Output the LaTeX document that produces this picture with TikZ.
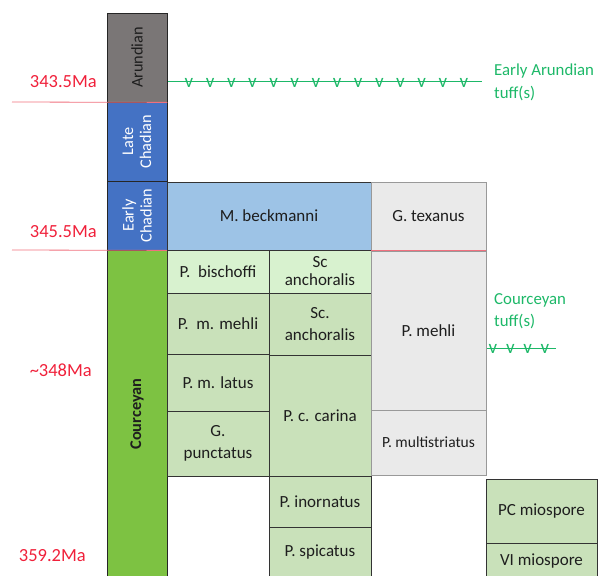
\documentclass[tikz,border=0pt]{standalone}
\usepackage{fontspec}
\setmainfont{Carlito}
\usetikzlibrary{positioning, calc}
\definecolor{arugray}{HTML}{7A7676}
\definecolor{chadblue}{HTML}{4472C4}
\definecolor{courgreen}{HTML}{7DC242}
\definecolor{beckblue}{HTML}{9DC3E6}
\definecolor{palegray}{HTML}{EAEAEA}
\definecolor{palegreen}{HTML}{D8F2CF}
\definecolor{sage}{HTML}{C9E1BA}
\definecolor{agered}{HTML}{F0203A}
\definecolor{ageline}{HTML}{F0707E}
\definecolor{tuffgreen}{HTML}{1DB868}
\definecolor{inkdark}{HTML}{1E1E1E}

\begin{document}
\begin{tikzpicture}[
    x=1pt, y=-1pt,
    stage/.style={draw=black!85, line width=0.8pt, rectangle, rotate=90, minimum height=60pt, align=center, inner sep=0pt, font=\fontsize{16.3}{18}\selectfont},
    zone/.style={draw=black!80, line width=0.8pt, rectangle, align=center, inner sep=0pt, fill=sage, text=inkdark, font=\fontsize{17}{22}\selectfont},
    greyzone/.style={zone, draw=black!40, fill=palegray},
    age/.style={text=agered, anchor=east, inner sep=0pt, font=\fontsize{18.5}{20}\selectfont},
    ageline/.style={draw=ageline, line width=0.8pt},
    tuff/.style={draw=tuffgreen, line width=0.8pt},
    tufflabel/.style={text=tuffgreen, anchor=north west, align=left, inner sep=0pt, font=\fontsize{16.8}{22.5}\selectfont},
    vmark/.style={text=tuffgreen, inner sep=0pt, font=\fontsize{19}{19}\selectfont}
]
    \useasboundingbox (0,0) rectangle (598,576);

    % --- STAGES ---
    \node[stage, fill=arugray, text=inkdark, minimum width=89pt] (arundian) at (137, 57.5) {Arundian};
    \node[stage, fill=chadblue, text=white, minimum width=79pt] (latechad) at (137, 141.5) {Late\\Chadian};
    \node[stage, fill=chadblue, text=white, minimum width=69pt] (earlychad) at (137, 215.5) {Early\\Chadian};
    \node[stage, fill=courgreen, text=inkdark, minimum width=328pt, font=\fontsize{16.3}{18}\selectfont\bfseries] (courceyan) at (137, 414) {Courceyan};

    % --- AGES ---
    \node[age] (a343) at (97, 82) {343.5Ma};
    \node[age] (a345) at (97, 232) {345.5Ma};
    \node[age] (a348) at (92, 370) {\textasciitilde 348Ma};
    \node[age] (a359) at (86, 556) {359.2Ma};
    \coordinate (l343) at (12, 102);
    \coordinate (l345) at (12, 250);
    \draw[ageline] (l343) -- (arundian.south west);
    \draw[ageline] (l345) -- (earlychad.south west);

    % --- ZONES ---
    \node[zone, fill=beckblue, minimum width=204pt, minimum height=68pt] (beckmanni) at (269, 216) {M. beckmanni};
    \node[greyzone, minimum width=115pt, minimum height=69pt] (texanus) at (428.5, 216.5) {G. texanus};

    % column 1
    \node[zone, fill=palegreen, minimum width=102pt, minimum height=43pt] (bischoffi) at (218, 271.5) {P.\ \ bischoffi};
    \node[zone, minimum width=102pt, minimum height=61pt] (mmehli) at (218, 323.5) {P.\ \ m. mehli};
    \node[zone, minimum width=102pt, minimum height=57pt] (mlatus) at (218, 382.5) {P. m. latus};
    \node[zone, minimum width=102pt, minimum height=65pt] (punctatus) at (218, 443.5) {G.\\punctatus};

    % column 2
    \node[zone, fill=palegreen, minimum width=102pt, minimum height=43pt, font=\fontsize{17}{18}\selectfont] (scanch) at (320, 271.5) {Sc\\anchoralis};
    \node[zone, minimum width=102pt, minimum height=62pt] (scanchb) at (320, 324) {Sc.\\anchoralis};
    \node[zone, minimum width=102pt, minimum height=121pt] (carina) at (320, 415.5) {P. c. carina};
    \node[zone, minimum width=102pt, minimum height=51pt] (inornatus) at (320, 501.5) {P. inornatus};
    \node[zone, minimum width=102pt, minimum height=51pt] (spicatus) at (320, 552.5) {P. spicatus};

    % column 3
    \node[greyzone, minimum width=115pt, minimum height=160pt] (pmehli) at (428.5, 331) {P. mehli};
    \node[greyzone, minimum width=115pt, minimum height=65pt, font=\fontsize{15.5}{18}\selectfont] (multistriatus) at (428.5, 442.5) {P. multistriatus};
    \draw[ageline] (pmehli.north west) -- (pmehli.north east);

    % column 4
    \node[zone, minimum width=111pt, minimum height=64pt] (pcmio) at (541.5, 511) {PC miospore};
    \node[zone, minimum width=111pt, minimum height=36pt] (vimio) at (541.5, 561) {VI miospore};

    % --- TUFFS ---
    \coordinate (arutuffL) at (168, 81);
    \coordinate (arutuffR) at (482, 81);
    \draw[tuff] (arutuffL) -- (arutuffR);
    \foreach \i in {0,...,13}
        \node[vmark] at ($(arutuffL)+(21+21.15*\i, 1.5)$) {v};
    \node[tufflabel] (arulabel) at (494, 64) {Early Arundian\\tuff(s)};

    \coordinate (courtuffL) at (487, 348);
    \coordinate (courtuffR) at (556, 348);
    \draw[tuff] (courtuffL) -- (courtuffR);
    \foreach \i in {0,...,3}
        \node[vmark] at ($(courtuffL)+(6+17.3*\i, 1)$) {v};
    \node[tufflabel] (courlabel) at (494, 293) {Courceyan\\tuff(s)};

\end{tikzpicture}
\end{document}
